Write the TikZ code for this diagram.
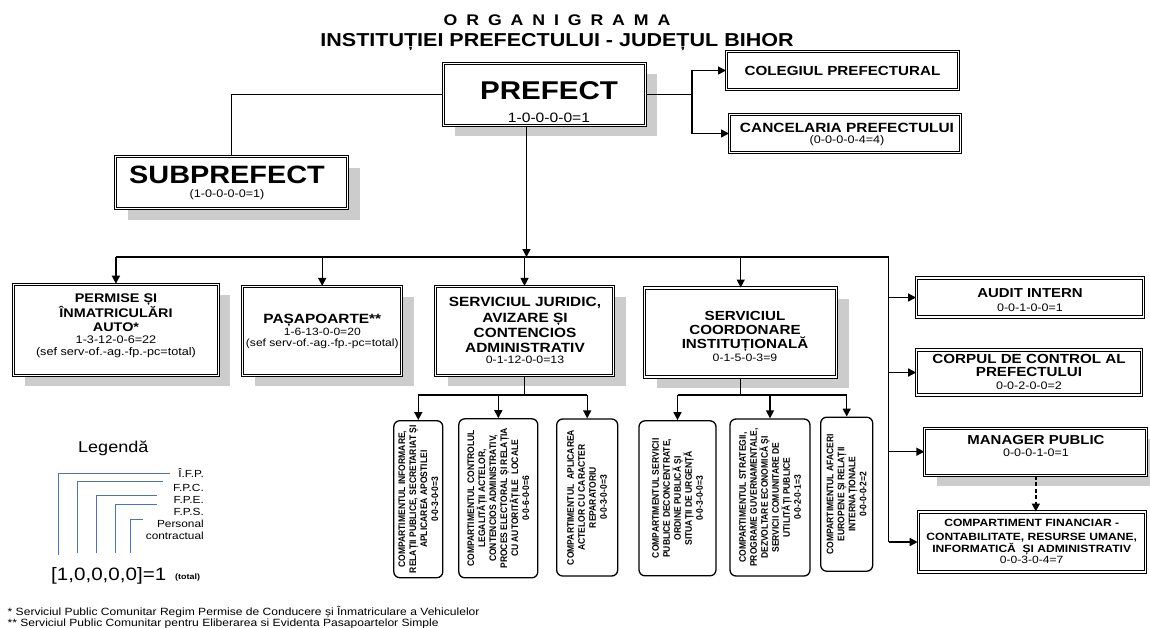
\documentclass[tikz,border=0pt]{standalone}
\usepackage{fontspec}
\setmainfont{Liberation Sans}[FakeStretch=1.15]
\newfontfamily\narrowf{Liberation Sans}[FakeStretch=0.9]
\usetikzlibrary{arrows.meta,shadows}
\definecolor{shadowgray}{RGB}{204,204,204}
\definecolor{legblue}{RGB}{72,116,200}
\newcommand{\fsz}[1]{\fontsize{#1}{0}\selectfont\lineskiplimit=-100pt\relax}
\newcommand{\tgap}{\hspace{8.9pt}}
\begin{document}
\begin{tikzpicture}[x=1pt,y=-1pt,
 dbox/.style={draw=black, double=white, double distance=1.3pt, line width=1pt, fill=white, inner sep=0pt},
 shad/.style={drop shadow={shadow xshift=12pt, shadow yshift=-11pt, fill=shadowgray, opacity=1}},
 vbox/.style={draw=black, line width=1.3pt, rounded corners=6pt, fill=white, inner sep=0pt},
 conn/.style={line width=1.4pt},
 arr/.style={conn, -{Triangle[length=8pt,width=8pt]}},
 txt/.style={align=center, inner sep=0pt},
 vtxt/.style={rotate=90, align=center, inner sep=0pt, font=\narrowf\bfseries\fsz{9.5}},
 legline/.style={legblue, line width=1pt},
 ltxt/.style={anchor=base east, inner sep=0pt, font=\fsz{10.3}}
]
\useasboundingbox (0,0) rectangle (1150,627);

% title
\node[txt, font=\bfseries\fsz{18.7}] (title) at (557,32.5) {{\fsz{15.4}O\tgap R\tgap G\tgap A\tgap N\tgap I\tgap G\tgap R\tgap A\tgap M\tgap A}\\[21.2pt]INSTITUȚIEI PREFECTULUI - JUDEȚUL BIHOR};

% top boxes
\node[dbox, shad, minimum width=202pt, minimum height=62pt] (pref) at (544.2,94.2) {};
\node[txt, font=\fsz{13.6}] (prefT) at (549,102.3) {{\bfseries\fsz{25.7}PREFECT}\\[22.7pt]1-0-0-0-0=1};

\node[dbox, shad, minimum width=232pt, minimum height=52pt] (sub) at (231.5,182.5) {};
\node[txt, font=\fsz{11}] (subT) at (227,183.2) {{\bfseries\fsz{25.1}SUBPREFECT}\\[14pt](1-0-0-0-0=1)};

\node[dbox, minimum width=232pt, minimum height=38pt, font=\bfseries\fsz{13.2}] (coleg) at (842.5,70.5) {COLEGIUL PREFECTURAL};

\node[dbox, minimum width=231pt, minimum height=38pt] (canc) at (845,133.5) {};
\node[txt, font=\fsz{11}] (cancT) at (847,134.4) {{\bfseries\fsz{13.4}CANCELARIA PREFECTULUI}\\[10.5pt](0-0-0-0-4=4)};

% second row
\node[dbox, shad, minimum width=205pt, minimum height=91pt] (perm) at (115.9,329.7) {};
\node[txt, font=\fsz{11}] (permT) at (116,326) {{\bfseries\fsz{12.5}PERMISE ȘI}\\[14.4pt]{\bfseries\fsz{12.5}ÎNMATRICULĂRI}\\[14pt]{\bfseries\fsz{12.5}AUTO*}\\[12.5pt]1-3-12-0-6=22\\[12pt](sef serv-of.-ag.-fp.-pc=total)};

\node[dbox, shad, minimum width=159pt, minimum height=89pt] (pasa) at (322.2,330.9) {};
\node[txt, font=\fsz{10.5}] (pasaT) at (322.3,331.5) {{\bfseries\fsz{13.4}PAȘAPOARTE**}\\[11.8pt]1-6-13-0-0=20\\[11pt](sef serv-of.-ag.-fp.-pc=total)};

\node[dbox, shad, minimum width=178pt, minimum height=89pt] (jur) at (524.5,330.9) {};
\node[txt, font=\bfseries\fsz{13.4}] (jurT) at (525,330.3) {SERVICIUL JURIDIC,\\[16pt]AVIZARE ȘI\\[15pt]CONTENCIOS\\[15pt]ADMINISTRATIV\\[11.8pt]{\mdseries\fsz{10.7}0-1-12-0-0=13}};

\node[dbox, shad, minimum width=192pt, minimum height=89pt] (coord) at (740.7,332.5) {};
\node[txt, font=\bfseries\fsz{13.2}] (coordT) at (745,336.9) {SERVICIUL\\[14pt]COORDONARE\\[14pt]INSTITUȚIONALĂ\\[13pt]{\mdseries\fsz{10.7}0-1-5-0-3=9}};

% right column
\node[dbox, minimum width=227pt, minimum height=39pt] (audit) at (1030,297.5) {};
\node[txt, font=\fsz{10.9}] (auditT) at (1030,300.5) {{\bfseries\fsz{13}AUDIT INTERN}\\[14pt]0-0-1-0-0=1};

\node[dbox, minimum width=225pt, minimum height=45pt] (corp) at (1029.2,372.5) {};
\node[txt, font=\bfseries\fsz{13.2}] (corpT) at (1029,372) {CORPUL DE CONTROL AL\\[13.4pt]PREFECTULUI\\[13.3pt]{\mdseries\fsz{10.9}0-0-2-0-0=2}};

\node[dbox, shad, minimum width=222pt, minimum height=47pt] (man) at (1035.8,451.7) {};
\node[txt, font=\fsz{10.9}] (manT) at (1036,446.2) {{\bfseries\fsz{13}MANAGER PUBLIC}\\[12.3pt]0-0-0-1-0=1};

\node[dbox, minimum width=227pt, minimum height=60pt] (fin) at (1031.7,542) {};
\node[txt, font=\bfseries\fsz{10.5}] (finT) at (1031.7,541.5) {COMPARTIMENT FINANCIAR -\\[13.4pt]CONTABILITATE, RESURSE UMANE,\\[12.6pt]INFORMATICĂ\ \ ȘI ADMINISTRATIV\\[10.7pt]{\mdseries\fsz{10.5}0-0-3-0-4=7}};

% vertical compartments
\node[vbox, minimum width=49pt, minimum height=157pt] (b1) at (418.3,499.2) {};
\node[vtxt] (b1T) at (b1.center) {COMPARTIMENTUL INFORMARE,\\[11pt]RELAȚII PUBLICE, SECRETARIAT ȘI\\[11pt]APLICAREA APOSTILEI\\[11pt]0-0-3-0-0=3};
\node[vbox, minimum width=79pt, minimum height=159pt] (b2) at (498.3,498.3) {};
\node[vtxt] (b2T) at (b2.center) {COMPARTIMENTUL CONTROLUL\\[11pt]LEGALITĂȚII ACTELOR,\\[11pt]CONTENCIOS ADMINISTRATIV,\\[11pt]PROCES ELECTORAL ȘI RELAȚIA\\[11pt]CU AUTORITĂȚILE\ \ LOCALE\\[11pt]0-0-6-0-0=6};
\node[vbox, minimum width=61pt, minimum height=157pt] (b3) at (587.2,497.5) {};
\node[vtxt] (b3T) at (b3.center) {COMPARTIMENTUL\ \ APLICAREA\\[11pt]ACTELOR CU CARACTER\\[11pt]REPARATORIU\\[11pt]0-0-3-0-0=3};
\node[vbox, minimum width=77pt, minimum height=155pt] (b4) at (677.5,498.3) {};
\node[vtxt] (b4T) at (b4.center) {COMPARTIMENTUL SERVICII\\[11pt]PUBLICE DECONCENTRATE,\\[11pt]ORDINE PUBLICĂ ȘI\\[11pt]SITUAȚII DE URGENȚĂ\\[11pt]0-0-3-0-0=3};
\node[vbox, minimum width=80pt, minimum height=157pt] (b5) at (770,497.5) {};
\node[vtxt] (b5T) at (b5.center) {COMPARTIMENTUL STRATEGII,\\[11pt]PROGRAME GUVERNAMENTALE,\\[11pt]DEZVOLTARE ECONOMICĂ ȘI\\[11pt]SERVICII COMUNITARE DE\\[11pt]UTILITĂȚI PUBLICE\\[11pt]0-0-2-0-1=3};
\node[vbox, minimum width=52pt, minimum height=154pt] (b6) at (846.7,494.2) {};
\node[vtxt] (b6T) at (b6.center) {COMPARTIMENTUL AFACERI\\[11pt]EUROPENE ȘI RELAȚII\\[11pt]INTERNAȚIONALE\\[11pt]0-0-0-0-2=2};

% connectors top
\coordinate (jl) at (692,94.2);
\draw[conn] (pref.west) -| (sub.north);
\draw[conn] (pref.east) -- (jl);
\draw[arr] (jl) |- (coleg.west);
\draw[arr] (jl) |- (canc.west);

% bus
\coordinate (bj) at (526.5,257);
\coordinate (bl) at (perm.north |- bj);
\coordinate (br) at (888.5,257);
\draw[arr] (pref.south -| bj) -- (bj);
\draw[conn] (bl) -- (br);
\draw[arr] (bl) -- (perm.north);
\draw[arr] (pasa.north |- bj) -- (pasa.north);
\draw[arr] (jur.north |- bj) -- (jur.north);
\draw[arr] (coord.north |- bj) -- (coord.north);

% right column connectors
\draw[conn] (br) -- (br |- fin.west);
\draw[arr] (br |- audit.west) -- (audit.west);
\draw[arr] (br |- corp.west) -- (corp.west);
\draw[arr] (br |- man.west) -- (man.west);
\draw[arr] (br |- fin.west) -- (fin.west);
\draw[arr, line width=1.5pt, dash pattern=on 4pt off 2.5pt] (man.south) -- (man.south |- fin.north);

% juridic children
\coordinate (jd) at (524.5,395);
\draw[conn] (jur.south) -- (jd);
\draw[conn] (b1.north |- jd) -- (b3.north |- jd);
\draw[arr] (b1.north |- jd) -- (b1.north);
\draw[arr] (b2.north |- jd) -- (b2.north);
\draw[arr] (b3.north |- jd) -- (b3.north);

% coordonare children
\coordinate (cd) at (740.7,395);
\draw[conn] (coord.south) -- (cd);
\draw[conn] (b4.north |- cd) -- (b6.north |- cd);
\draw[arr] (b4.north |- cd) -- (b4.north);
\draw[arr] (b5.north |- cd) -- (b5.north);
\draw[arr] (b6.north |- cd) -- (b6.north);

% legend
\node[inner sep=0pt, font=\fsz{15.7}] (legT) at (113.3,448.5) {Legendă};
\draw[legline] (58.3,555) |- (170,473);
\draw[legline] (77.3,553.3) |- (163.3,481.7);
\draw[legline] (96,553.3) |- (156.7,495);
\draw[legline] (115,553.3) |- (156.7,504);
\draw[legline] (130,552.5) |- (143.3,519.3);
\node[ltxt] (l1) at (204,477.5) {Î.F.P.};
\node[ltxt] (l2) at (204,491.7) {F.P.C.};
\node[ltxt] (l3) at (204,503.5) {F.P.E.};
\node[ltxt] (l4) at (204,515) {F.P.S.};
\node[ltxt] (l5) at (204,527.3) {Personal};
\node[ltxt] (l6) at (204,539.3) {contractual};
\node[anchor=base west, inner sep=0pt, font=\fsz{17.9}] (formula) at (51,580.7) {[1,0,0,0,0]=1};
\node[anchor=base west, inner sep=0pt, font=\bfseries\fsz{7.8}] (tot) at (175,579.5) {(total)};

% footnotes
\node[anchor=base west, inner sep=0pt, font=\fsz{10.5}] (fn1) at (7.5,615.5) {* Serviciul Public Comunitar Regim Permise de Conducere și Înmatriculare a Vehiculelor};
\node[anchor=base west, inner sep=0pt, font=\fsz{10.5}] (fn2) at (7.5,626) {** Serviciul Public Comunitar pentru Eliberarea si Evidenta Pasapoartelor Simple};
\end{tikzpicture}
\end{document}
